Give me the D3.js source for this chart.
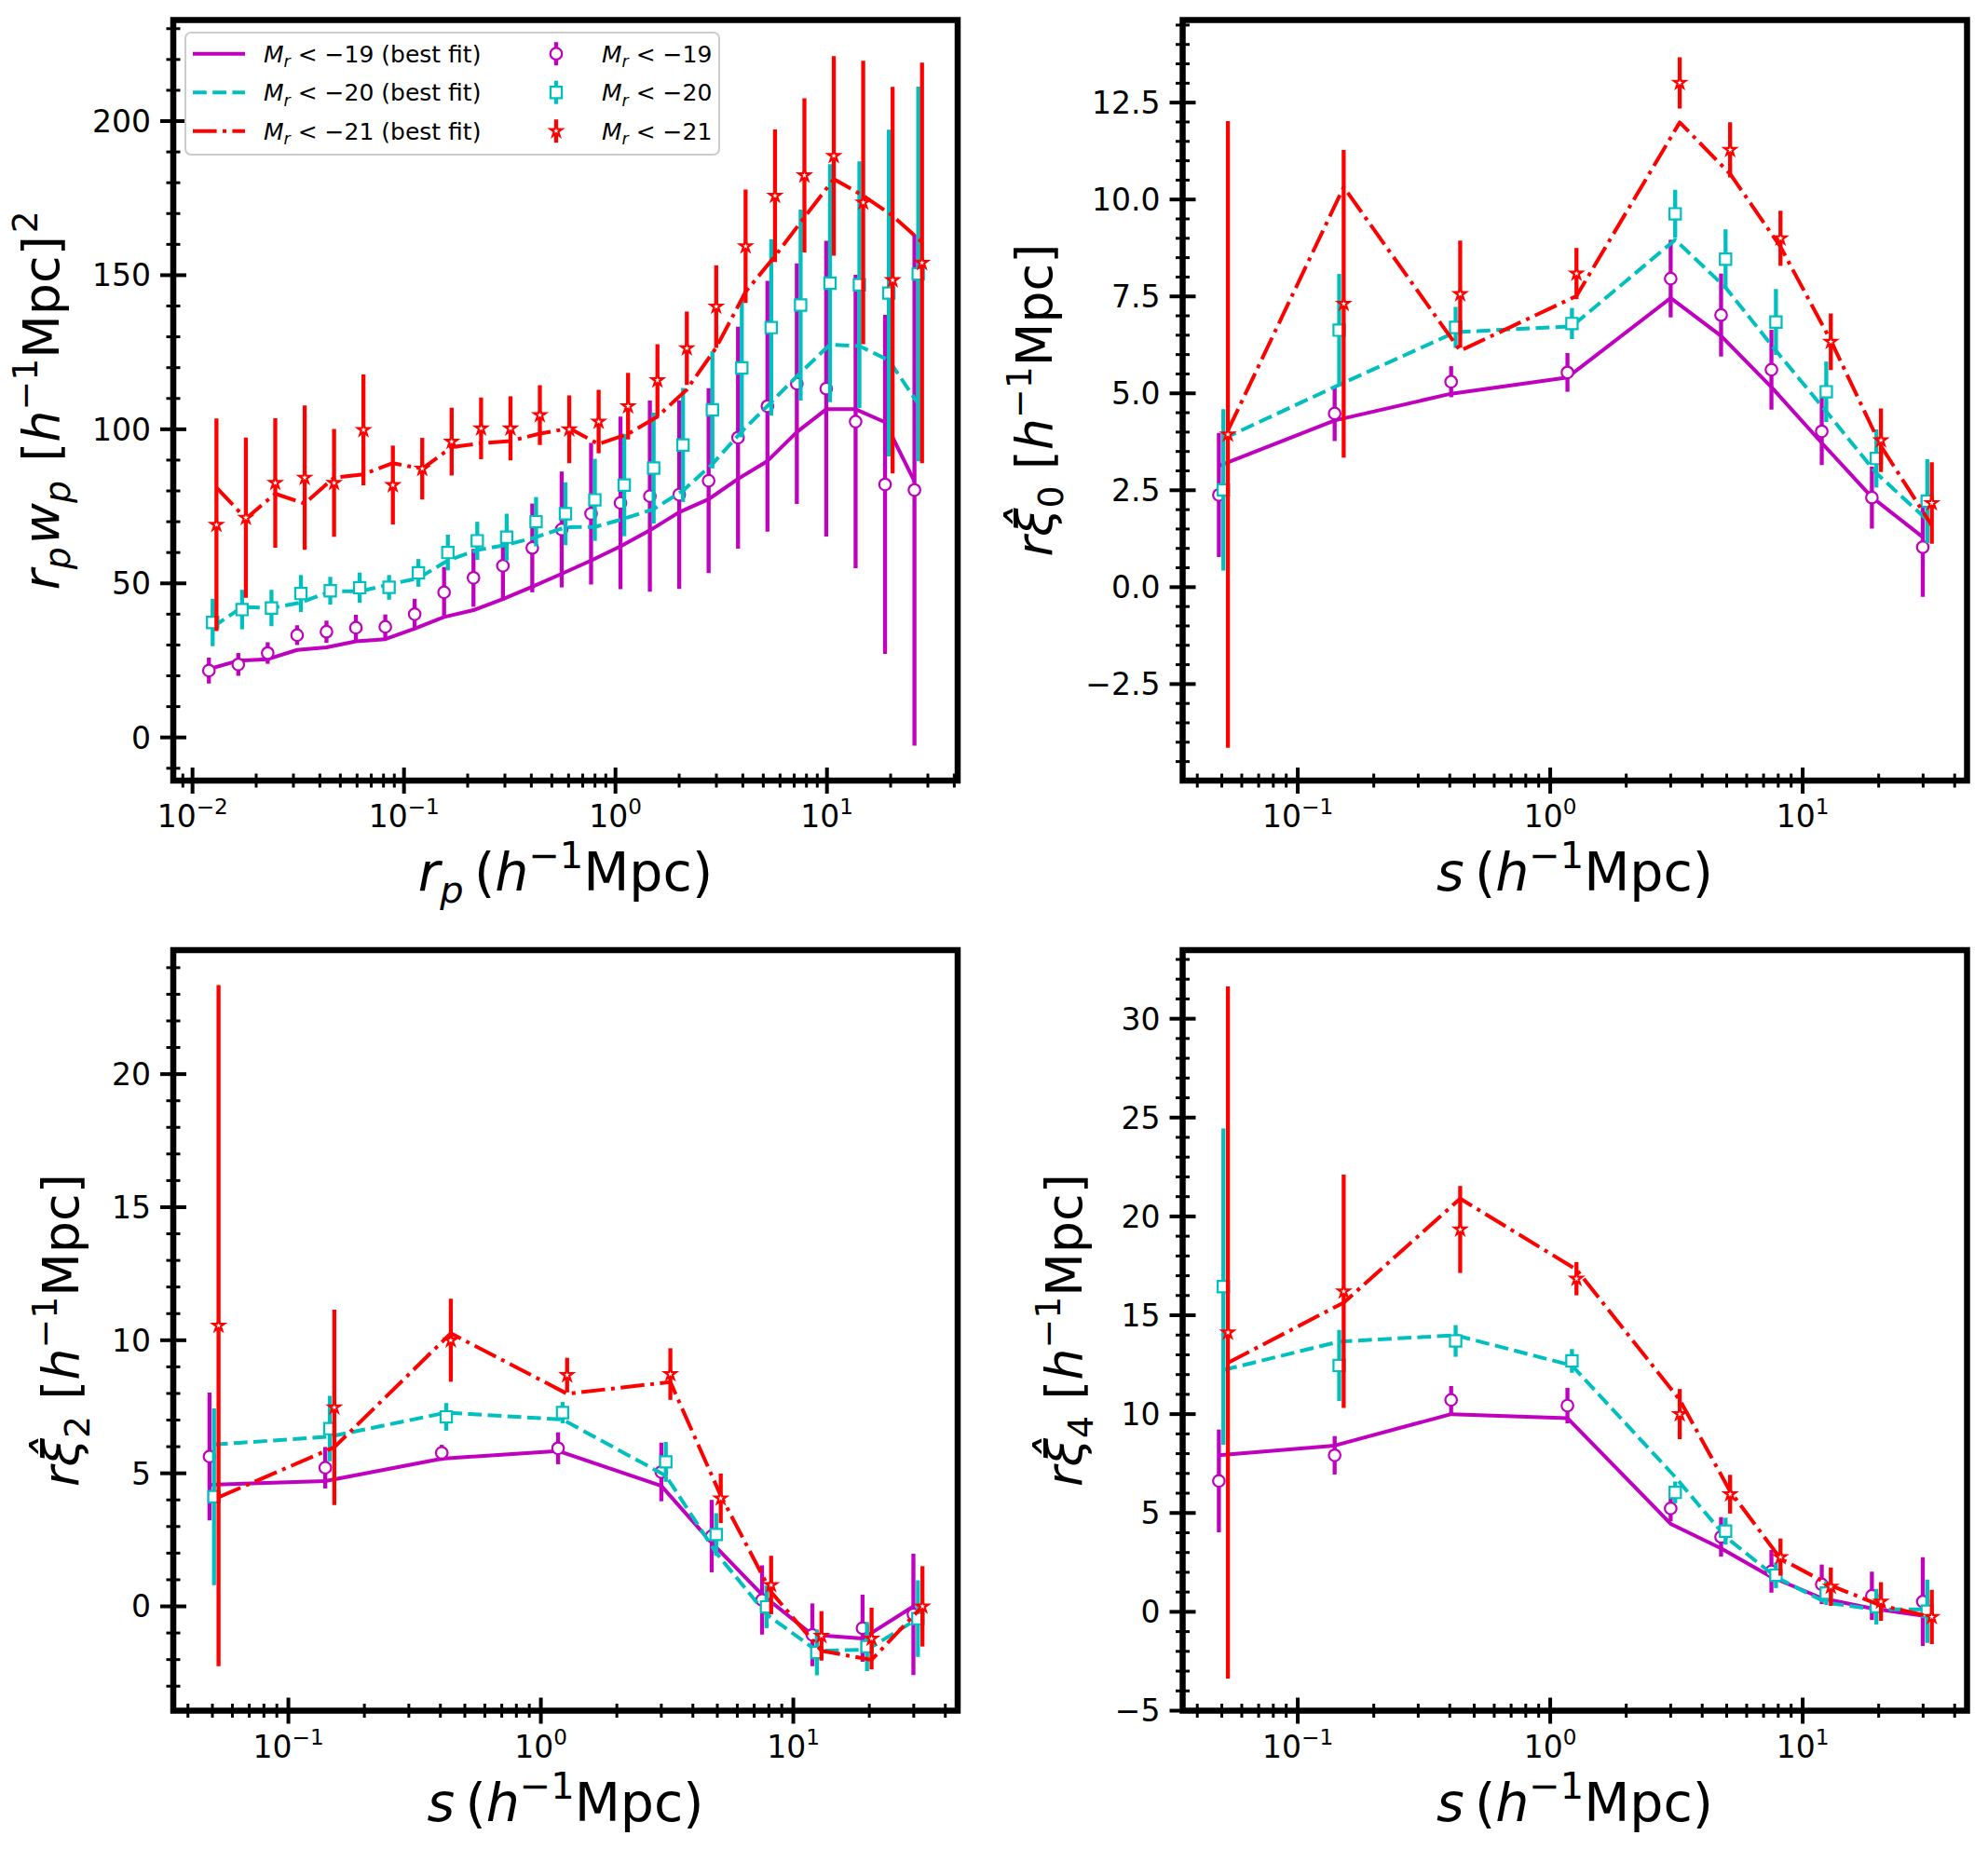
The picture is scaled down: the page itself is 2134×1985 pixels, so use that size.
<!DOCTYPE html>
<html><head><meta charset="utf-8">
<script src="https://cdn.jsdelivr.net/npm/d3@7"></script>
<style>
body{margin:0;background:#fff}
text{font-family:"DejaVu Sans";white-space:pre}
</style></head>
<body><svg id="fig" width="2134" height="1985"></svg>
<script>
// ---------------- DATA ----------------
// projected separation bins (h^-1 Mpc) for r_p w_p
const rpBins = [0.01195,0.01646,0.02267,0.03123,0.04300,0.05923,0.08157,0.1123,0.1547,0.2131,0.2935,0.4042,0.5566,0.7666,1.056,1.454,2.002,2.757,3.797,5.230,7.203,9.920,13.66,18.82,25.92];
// redshift-space separation bins for multipoles
const sBins = [0.0487,0.140,0.405,1.17,3.0,4.75,7.52,11.9,18.8,29.9];
// small horizontal offsets of the samples (multiplicative)
const shiftM19 = 1.0, shiftM20 = 1.042, shiftM21 = 1.086;

// r_p w_p
const wp19 = [21.7,23.7,27.4,33.2,34.3,35.6,35.9,40.0,47.1,51.8,55.7,61.5,67.5,72.6,76.1,78.3,78.8,83.3,97.3,107.5,114.8,113.2,102.5,82.1,80.3];
const wp19Err = [4.2,3.7,3.5,3.2,3.6,4.2,4.0,5.0,8.2,9.4,11.2,14.4,18.8,23.0,28.0,31.0,30.6,30.0,36.0,40.7,39.0,48.0,47.6,55.0,83.0];
const wp19Fit = [22.2,24.9,25.4,28.4,29.2,31.2,31.9,35.3,39.1,41.3,44.9,48.9,53.1,57.4,62.0,67.2,73.1,77.3,83.9,89.7,99.1,106.5,106.5,102.3,83.1];
const wp20 = [37.3,41.5,42.0,46.7,47.6,48.6,48.7,53.4,60.0,63.8,65.0,70.0,72.6,77.1,81.9,87.4,94.9,106.3,119.9,133.0,140.3,147.4,146.9,144.2,150.4];
const wp20Err = [7.7,6.4,5.9,6.0,4.5,4.9,4.0,4.5,5.8,6.2,7.6,8.0,10.2,13.3,16.6,18.0,18.5,19.0,22.5,28.6,31.0,38.6,40.0,53.0,60.8];
const wp20Fit = [35.8,42.3,42.0,43.8,47.4,47.4,49.6,51.7,57.4,60.8,62.5,65.0,68.2,68.3,71.0,74.1,80.1,88.7,99.3,108.8,118.4,127.5,127.0,122.4,108.3];
const wp21 = [69.0,71.3,82.6,84.3,82.6,99.8,81.9,87.2,96.0,100.3,100.3,104.6,100.0,102.5,107.5,115.9,126.3,139.8,159.4,175.8,182.4,188.7,173.6,148.4,154.0];
const wp21Err = [34.5,26.0,21.0,23.4,17.5,18.0,12.8,10.0,11.0,10.0,10.4,9.7,11.0,10.3,10.8,11.7,11.9,13.4,18.4,21.5,25.0,32.4,46.0,62.7,65.0];
const wp21Fit = [81.1,71.0,79.1,75.9,84.3,85.4,89.0,87.2,94.2,95.5,96.2,98.6,100.3,95.2,98.5,104.1,112.9,126.5,144.6,156.2,168.8,181.2,175.8,169.3,160.7];

// monopole r xi_0
const xi0_19 = [2.38,4.48,5.30,5.54,7.96,7.02,5.61,4.02,2.31,1.03];
const xi0_19Err = [1.6,0.71,0.4,0.5,1.0,1.07,1.03,0.87,0.8,1.28];
const xi0_19Fit = [3.13,4.30,4.99,5.41,7.46,6.48,5.16,3.72,2.32,1.29];
const xi0_20 = [2.51,6.63,6.70,6.80,9.63,8.46,6.84,5.04,3.32,2.22];
const xi0_20Err = [2.08,1.45,0.53,0.4,0.62,0.77,0.85,0.78,0.75,1.08];
const xi0_20Fit = [3.83,5.22,6.58,6.73,8.96,7.73,6.10,4.53,2.94,1.73];
const xi0_21 = [3.94,7.31,7.56,8.09,13.01,11.28,9.00,6.33,3.79,2.17];
const xi0_21Err = [8.08,3.97,1.38,0.66,0.66,0.71,0.71,0.73,0.82,1.05];
const xi0_21Fit = [4.04,10.32,6.10,7.51,11.99,10.66,8.78,6.36,3.64,1.59];

// quadrupole r xi_2
const xi2_19 = [5.63,5.21,5.77,5.94,5.05,2.64,0.24,-1.07,-0.82,-0.30];
const xi2_19Err = [2.4,0.78,0.3,0.6,1.1,1.36,1.3,1.18,1.26,2.28];
const xi2_19Fit = [4.57,4.71,5.55,5.84,4.53,2.39,0.44,-1.07,-1.21,0.0];
const xi2_20 = [4.12,6.68,7.12,7.28,5.43,2.70,-0.02,-1.73,-1.51,-0.46];
const xi2_20Err = [3.32,1.23,0.52,0.4,0.75,0.8,0.8,0.86,0.92,1.44];
const xi2_20Fit = [6.08,6.38,7.28,7.02,4.91,2.01,-0.30,-1.67,-1.63,-0.46];
const xi2_21 = [10.55,7.48,10.0,8.69,8.73,4.06,0.80,-1.11,-1.21,0.0];
const xi2_21Err = [12.8,3.67,1.56,0.65,0.97,0.93,1.1,0.93,1.16,1.51];
const xi2_21Fit = [4.10,5.98,10.26,7.99,8.43,4.16,0.54,-1.67,-2.01,0.0];

// hexadecapole r xi_4
const xi4_19 = [6.62,7.92,10.72,10.43,5.23,3.79,2.05,1.39,0.81,0.52];
const xi4_19Err = [2.6,0.97,0.7,0.9,0.65,1.0,1.08,1.0,1.22,2.24];
const xi4_19Fit = [7.92,8.41,10.0,9.80,4.45,3.21,1.76,0.69,0.17,-0.2];
const xi4_20 = [16.45,12.46,13.70,12.69,6.04,4.08,1.85,0.95,0.26,0.03];
const xi4_20Err = [8.0,1.8,0.8,0.6,0.55,0.68,0.65,0.6,0.9,1.6];
const xi4_20Fit = [12.23,13.67,13.99,12.46,6.82,3.79,1.76,0.46,0.12,0.12];
const xi4_21 = [14.13,16.21,19.34,16.85,10.0,5.95,2.77,1.27,0.52,-0.26];
const xi4_21Err = [17.5,5.9,2.2,0.84,1.27,0.98,0.94,0.97,0.98,1.37];
const xi4_21Fit = [12.6,15.64,20.9,17.31,10.72,6.1,2.69,1.33,0.32,-0.26];

const yTicks1 = [0,50,100,150,200];
const yTicks2 = [-2.5,0,2.5,5,7.5,10,12.5];
const yTicks3 = [0,5,10,15,20];
const yTicks4 = [-5,0,5,10,15,20,25,30];
const legendLabels = ["\u221219","\u221220","\u221221"];

// ---------------- STYLE ----------------
const COL = {m:"#bf00bf", c:"#00bfbf", r:"#ff0000"};
const svg = d3.select("#fig");
svg.append("rect").attr("width",2134).attr("height",1985).attr("fill","#fff");
const PW = 842, PH = 816.5;
const TICK_FS = 33, LABEL_FS = 54, XLABEL_FS = 57;

function mathText(sel, parts, fs) {
  const t = sel.append("text").attr("font-size", fs);
  let shift = 0;
  parts.forEach(p => {
    const ts = t.append("tspan").text(p.t);
    let target = 0, size = fs;
    if (p.sub) { target = 0.22*fs; size = 0.7*fs; }
    if (p.sup) { target = -0.42*fs; size = 0.7*fs; }
    ts.attr("font-size", size);
    if (target - shift !== 0) ts.attr("dy", target - shift);
    if (p.dx) ts.attr("dx", p.dx);
    if (p.i) ts.attr("font-style","italic");
    shift = target;
  });
  return t;
}

const unitParts = [{t:"h",i:1},{t:"\u22121",sup:1},{t:"Mpc"}];
const TS = "\u2009";

function makeSeries(x, shift, y, err, fit) {
  return {x: x.map(v=>v*shift), y, err, fit};
}

const panels = [
  {x0:186, y0:21.5, xdom:[Math.pow(10,-2.091), Math.pow(10,1.618)], ydom:[-14.0,232.8],
   yticks:yTicks1, ystep:10, fmt:d=>d3.format("d")(d),
   series:[makeSeries(rpBins,shiftM19,wp19,wp19Err,wp19Fit),
           makeSeries(rpBins,shiftM20,wp20,wp20Err,wp20Fit),
           makeSeries(rpBins,shiftM21,wp21,wp21Err,wp21Fit)],
   xlabel:[{t:"r",i:1},{t:"p",i:1,sub:1},{t:TS+"("},...unitParts,{t:")"}],
   ylabel:[{t:"r",i:1},{t:"p",i:1,sub:1},{t:"w",i:1,dx:3},{t:"p",i:1,sub:1},{t:" [",dx:3},...unitParts,{t:"]"},{t:"2",sup:1,dx:3}],
   legend:true},
  {x0:1269.5, y0:21.5, xdom:[Math.pow(10,-1.456), Math.pow(10,1.651)], ydom:[-4.99,14.63],
   yticks:yTicks2, ystep:0.5, fmt:d=>d3.format(".1f")(d),
   series:[makeSeries(sBins,shiftM19,xi0_19,xi0_19Err,xi0_19Fit),
           makeSeries(sBins,shiftM20,xi0_20,xi0_20Err,xi0_20Fit),
           makeSeries(sBins,shiftM21,xi0_21,xi0_21Err,xi0_21Fit)],
   xlabel:[{t:"s",i:1},{t:TS+"("},...unitParts,{t:")"}],
   ylabel:[{t:"r\u03be\u0302",i:1},{t:"0",sub:1},{t:" ["},...unitParts,{t:"]"}]},
  {x0:186, y0:1020, xdom:[Math.pow(10,-1.456), Math.pow(10,1.651)], ydom:[-3.92,24.66],
   yticks:yTicks3, ystep:1, fmt:d=>d3.format("d")(d),
   series:[makeSeries(sBins,shiftM19,xi2_19,xi2_19Err,xi2_19Fit),
           makeSeries(sBins,shiftM20,xi2_20,xi2_20Err,xi2_20Fit),
           makeSeries(sBins,shiftM21,xi2_21,xi2_21Err,xi2_21Fit)],
   xlabel:[{t:"s",i:1},{t:TS+"("},...unitParts,{t:")"}],
   ylabel:[{t:"r\u03be\u0302",i:1},{t:"2",sub:1},{t:" ["},...unitParts,{t:"]"}]},
  {x0:1269.5, y0:1020, xdom:[Math.pow(10,-1.456), Math.pow(10,1.651)], ydom:[-5.0,33.47],
   yticks:yTicks4, ystep:1, fmt:d=>d3.format("d")(d),
   series:[makeSeries(sBins,shiftM19,xi4_19,xi4_19Err,xi4_19Fit),
           makeSeries(sBins,shiftM20,xi4_20,xi4_20Err,xi4_20Fit),
           makeSeries(sBins,shiftM21,xi4_21,xi4_21Err,xi4_21Fit)],
   xlabel:[{t:"s",i:1},{t:TS+"("},...unitParts,{t:")"}],
   ylabel:[{t:"r\u03be\u0302",i:1},{t:"4",sub:1},{t:" ["},...unitParts,{t:"]"}]}
];

const styles = [
  {col:COL.m, dash:null, marker:"circle"},
  {col:COL.c, dash:"14.8,6.4", marker:"square"},
  {col:COL.r, dash:"25.6,6.4,4,6.4", marker:"star"}
];
const MS = 12.5;
function markerPath(kind) {
  if (kind==="circle") return d3.symbol(d3.symbolCircle, Math.PI*(MS/2)*(MS/2))();
  if (kind==="square") return d3.symbol(d3.symbolSquare, MS*MS*0.95)();
  // five-point star, outer radius ~MS/2, inner ratio 0.381966
  const R = MS/2*1.05, r = R*0.381966, pts=[];
  for (let k=0;k<10;k++){ const a = -Math.PI/2 + k*Math.PI/5; const rr = k%2?r:R; pts.push([rr*Math.cos(a), rr*Math.sin(a)]); }
  return "M"+pts.map(p=>p[0].toFixed(2)+","+p[1].toFixed(2)).join("L")+"Z";
}

panels.forEach((P, pi) => {
  const g = svg.append("g").attr("transform", `translate(${P.x0},${P.y0})`);
  const x = d3.scaleLog().domain(P.xdom).range([0, PW]);
  const y = d3.scaleLinear().domain(P.ydom).range([PH, 0]);
  const clipId = "clip"+pi;
  g.append("clipPath").attr("id",clipId).append("rect").attr("width",PW).attr("height",PH);
  const data = g.append("g").attr("clip-path",`url(#${clipId})`);

  P.series.forEach((S, si) => {
    const st = styles[si];
    const pts = S.x.map((xv,i)=>({x:xv, y:S.y[i], e:S.err[i], f:S.fit[i]}));
    const line = d3.line().x(d=>x(d.x)).y(d=>y(d.f));
    data.append("path").datum(pts).attr("d", line).attr("fill","none")
      .attr("stroke", st.col).attr("stroke-width",4).attr("stroke-linejoin","round")
      .attr("stroke-dasharray", st.dash);
    data.selectAll(null).data(pts).enter().append("line")
      .attr("x1",d=>x(d.x)).attr("x2",d=>x(d.x))
      .attr("y1",d=>y(d.y-d.e)).attr("y2",d=>y(d.y+d.e))
      .attr("stroke", st.col).attr("stroke-width",4.3);
    data.selectAll(null).data(pts).enter().append("path")
      .attr("d", markerPath(st.marker))
      .attr("transform", d=>`translate(${x(d.x)},${y(d.y)})`)
      .attr("fill","#fff").attr("stroke",st.col).attr("stroke-width",2.2);
  });

  // frame
  g.append("rect").attr("width",PW).attr("height",PH).attr("fill","none")
    .attr("stroke","#000").attr("stroke-width",6.5);

  // y ticks
  const [y0d,y1d] = P.ydom;
  const minors = [];
  for (let v = Math.ceil(y0d/P.ystep)*P.ystep; v <= y1d+1e-9; v += P.ystep) {
    const vv = +v.toFixed(6);
    if (!P.yticks.some(t=>Math.abs(t-vv)<1e-6)) minors.push(vv);
  }
  g.selectAll(null).data(minors).enter().append("line")
    .attr("x1",-7.5).attr("x2",7.5).attr("y1",d=>y(d)).attr("y2",d=>y(d))
    .attr("stroke","#000").attr("stroke-width",3);
  g.selectAll(null).data(P.yticks).enter().append("line")
    .attr("x1",-14).attr("x2",14).attr("y1",d=>y(d)).attr("y2",d=>y(d))
    .attr("stroke","#000").attr("stroke-width",4);
  const ylabs = g.selectAll(null).data(P.yticks).enter().append("text")
    .attr("x",-24).attr("y",d=>y(d)).attr("dy","0.36em")
    .attr("text-anchor","end").attr("font-size",TICK_FS)
    .text(d=>P.fmt(d).replace("-","\u2212"));

  // x ticks (log)
  const lo = Math.floor(Math.log10(P.xdom[0])), hi = Math.ceil(Math.log10(P.xdom[1]));
  const xmaj = [], xmin = [];
  for (let k=lo;k<=hi;k++) for (let m=1;m<=9;m++) {
    const v = m*Math.pow(10,k);
    if (v < P.xdom[0] || v > P.xdom[1]) continue;
    (m===1?xmaj:xmin).push({v,k});
  }
  g.selectAll(null).data(xmin).enter().append("line")
    .attr("x1",d=>x(d.v)).attr("x2",d=>x(d.v)).attr("y1",PH-7.5).attr("y2",PH+7.5)
    .attr("stroke","#000").attr("stroke-width",3);
  g.selectAll(null).data(xmaj).enter().append("line")
    .attr("x1",d=>x(d.v)).attr("x2",d=>x(d.v)).attr("y1",PH-14).attr("y2",PH+14)
    .attr("stroke","#000").attr("stroke-width",4);
  xmaj.forEach(d => {
    const t = mathText(g, [{t:"10"},{t:(d.k<0?"\u2212":"")+Math.abs(d.k),sup:1}], TICK_FS);
    t.attr("x", x(d.v)).attr("y", PH+50).attr("text-anchor","middle");
  });

  // x label
  mathText(g, P.xlabel, XLABEL_FS).attr("x", PW/2).attr("y", PH+118).attr("text-anchor","middle");

  // y label
  let minLeft = Infinity;
  ylabs.each(function(){ const b=this.getBBox(); minLeft=Math.min(minLeft,b.x); });
  const yl = mathText(g, P.ylabel, LABEL_FS).attr("text-anchor","middle");
  const bb = yl.node().getBBox();
  const X = (minLeft - 15) - (bb.y + bb.height);
  const Y = PH/2 + (bb.x + bb.width/2);
  yl.attr("transform", `translate(${X},${Y}) rotate(-90)`);

  // legend
  if (P.legend) {
    const L = svg.append("g");
    L.append("rect").attr("x",199).attr("y",35).attr("width",573).attr("height",131)
      .attr("rx",6).attr("fill","#fff").attr("fill-opacity",0.8)
      .attr("stroke","#cccccc").attr("stroke-width",2);
    const rows = [57.7, 99.2, 140.7];
    styles.forEach((st, i) => {
      L.append("line").attr("x1",207).attr("x2",263).attr("y1",rows[i]).attr("y2",rows[i])
        .attr("stroke",st.col).attr("stroke-width",4).attr("stroke-dasharray",st.dash);
      mathText(L, [{t:"M",i:1},{t:"r",i:1,sub:1},{t:" < "+legendLabels[i]+" (best fit)"}], 25)
        .attr("x",283).attr("y",rows[i]).attr("dy","0.36em");
      L.append("line").attr("x1",597).attr("x2",597).attr("y1",rows[i]-12.5).attr("y2",rows[i]+12.5)
        .attr("stroke",st.col).attr("stroke-width",4.3);
      L.append("path").attr("d",markerPath(st.marker)).attr("transform",`translate(597,${rows[i]})`)
        .attr("fill","#fff").attr("stroke",st.col).attr("stroke-width",2.2);
      mathText(L, [{t:"M",i:1},{t:"r",i:1,sub:1},{t:" < "+legendLabels[i]}], 25)
        .attr("x",646).attr("y",rows[i]).attr("dy","0.36em");
    });
  }
});
</script></body></html>
